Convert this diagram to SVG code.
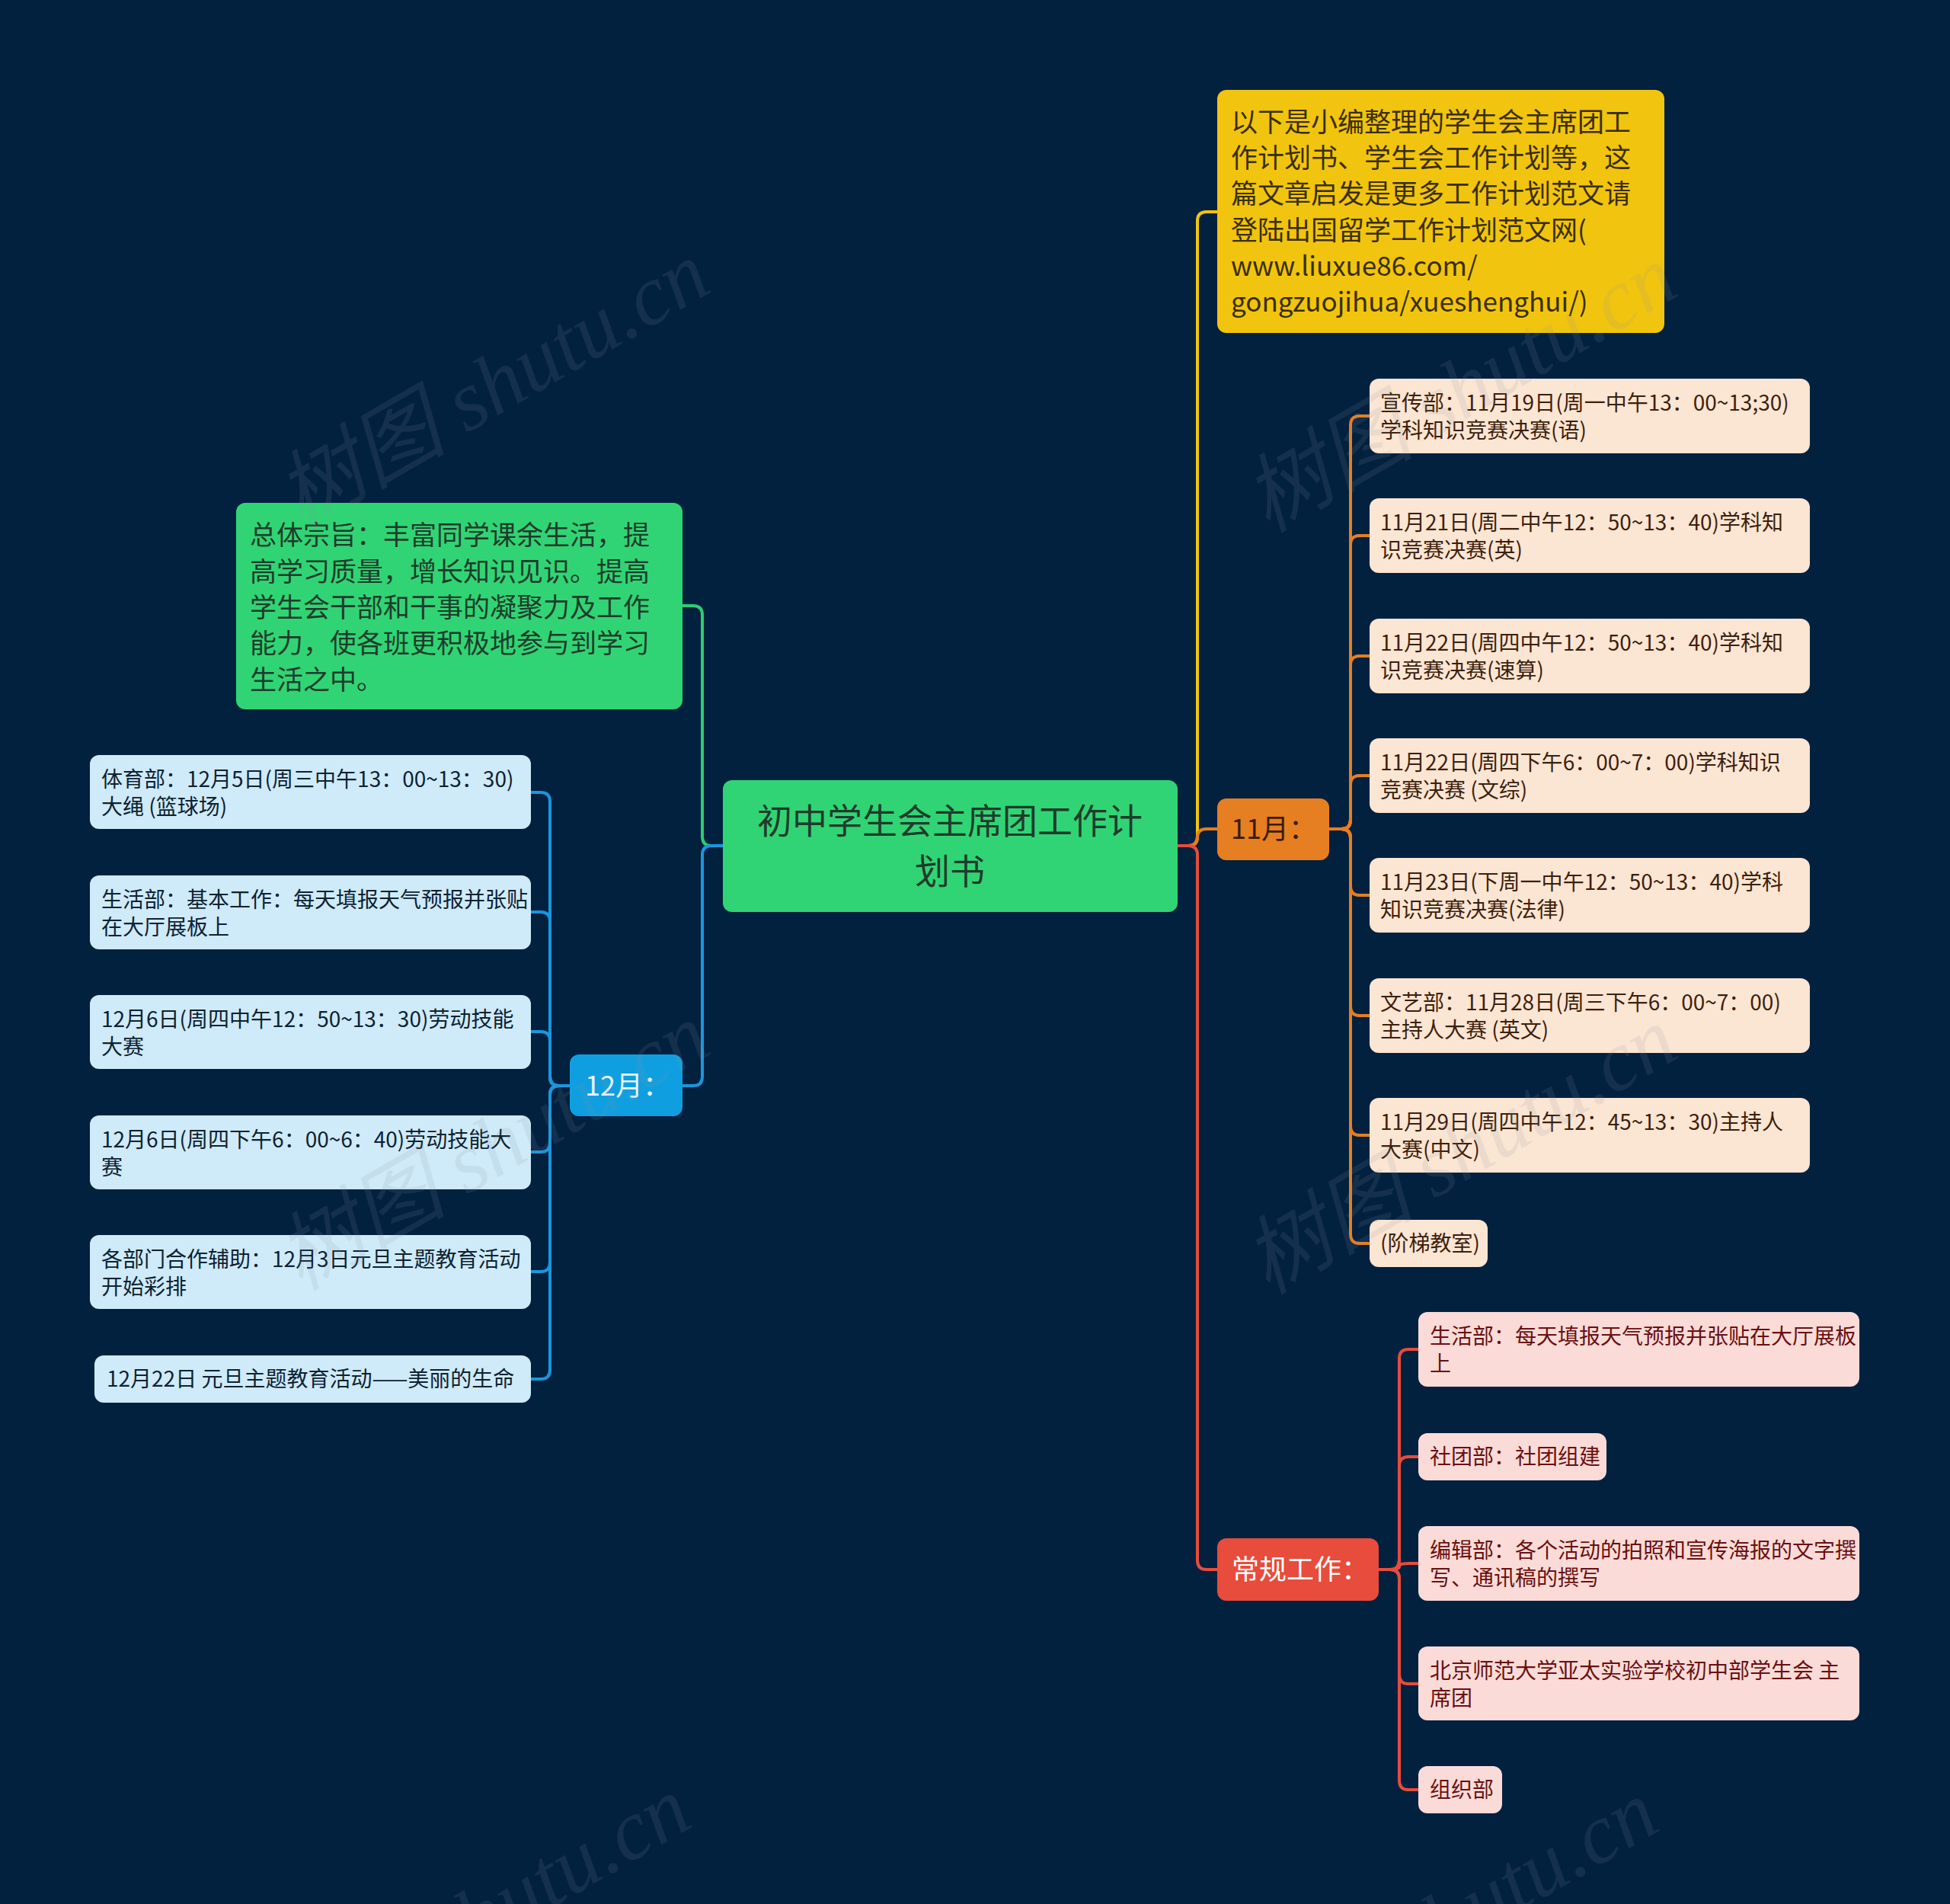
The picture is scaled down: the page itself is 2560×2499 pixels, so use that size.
<svg xmlns="http://www.w3.org/2000/svg" width="2560" height="2499" viewBox="0 0 2560 2499">
<style>
  text { font-family: "Noto Sans CJK SC", "Noto Sans", sans-serif; }
  .wm { font-family: "Liberation Serif", "Noto Sans CJK SC", serif; font-style: italic; font-size: 112px; fill: #8a96a3; opacity: 0.13; }
  .c { fill: none; stroke-width: 4; stroke-linecap: round; stroke-linejoin: round; }
  .cy { stroke: #f1c40f; } .co { stroke: #e67e22; } .cr { stroke: #e74c3c; } .cg { stroke: #2ecc71; } .cb { stroke: #1b96dc; }
  .root { fill: #31d474; }
  .troot { font-size: 46px; fill: #1f3b2b; }
  .tbig { font-size: 35px; }
  .tcat { font-size: 36px; }
  .tleaf { font-size: 28px; }
  .blue { fill: #cfeaf8; } .tblue { fill: #0c2233; }
  .org { fill: #fbe5d3; } .torg { fill: #3d1f0c; }
  .red { fill: #fadbd8; } .tred { fill: #6a1010; }
</style>
<rect width="2560" height="2499" fill="#02213f"/>

<g id="connectors">
  <path class="c cy" d="M1546,1110 H1560 Q1572,1110 1572,1098 V290 Q1572,278 1584,278 H1598"/>
  <path class="c co" d="M1546,1110 H1560 Q1572,1110 1572,1099 Q1572,1088 1584,1088 H1598"/>
  <path class="c cr" d="M1546,1110 H1560 Q1572,1110 1572,1122 V2048 Q1572,2060 1584,2060 H1598"/>
  <path class="c cg" d="M949,1110 H934 Q922,1110 922,1098 V807 Q922,795 910,795 H896"/>
  <path class="c cb" d="M949,1110 H934 Q922,1110 922,1122 V1413 Q922,1425 910,1425 H896"/>

  <path class="c cb" d="M748,1425 H734 Q722,1425 722,1413 V1052 Q722,1040 710,1040 H697"/>
  <path class="c cb" d="M748,1425 H734 Q722,1425 722,1413 V1209 Q722,1197 710,1197 H697"/>
  <path class="c cb" d="M748,1425 H734 Q722,1425 722,1413 V1366 Q722,1354 710,1354 H697"/>
  <path class="c cb" d="M748,1425 H734 Q722,1425 722,1437 V1500 Q722,1512 710,1512 H697"/>
  <path class="c cb" d="M748,1425 H734 Q722,1425 722,1437 V1657 Q722,1669 710,1669 H697"/>
  <path class="c cb" d="M748,1425 H734 Q722,1425 722,1437 V1798 Q722,1810 710,1810 H697"/>

  <path class="c co" d="M1745,1088 H1761 Q1773,1088 1773,1076 V558 Q1773,546 1785,546 H1798"/>
  <path class="c co" d="M1745,1088 H1761 Q1773,1088 1773,1076 V715 Q1773,703 1785,703 H1798"/>
  <path class="c co" d="M1745,1088 H1761 Q1773,1088 1773,1076 V873 Q1773,861 1785,861 H1798"/>
  <path class="c co" d="M1745,1088 H1761 Q1773,1088 1773,1076 V1030 Q1773,1018 1785,1018 H1798"/>
  <path class="c co" d="M1745,1088 H1761 Q1773,1088 1773,1100 V1163 Q1773,1175 1785,1175 H1798"/>
  <path class="c co" d="M1745,1088 H1761 Q1773,1088 1773,1100 V1321 Q1773,1333 1785,1333 H1798"/>
  <path class="c co" d="M1745,1088 H1761 Q1773,1088 1773,1100 V1478 Q1773,1490 1785,1490 H1798"/>
  <path class="c co" d="M1745,1088 H1761 Q1773,1088 1773,1100 V1620 Q1773,1632 1785,1632 H1798"/>

  <path class="c cr" d="M1810,2060 H1825 Q1837,2060 1837,2048 V1783 Q1837,1771 1849,1771 H1862"/>
  <path class="c cr" d="M1810,2060 H1825 Q1837,2060 1837,2048 V1924 Q1837,1912 1849,1912 H1862"/>
  <path class="c cr" d="M1810,2060 H1825 Q1837,2060 1837,2056 Q1837,2052 1849,2052 H1862"/>
  <path class="c cr" d="M1810,2060 H1825 Q1837,2060 1837,2072 V2198 Q1837,2210 1849,2210 H1862"/>
  <path class="c cr" d="M1810,2060 H1825 Q1837,2060 1837,2072 V2337 Q1837,2349 1849,2349 H1862"/>
</g>

<g id="root">
  <rect class="root" x="949" y="1024" width="597" height="173" rx="12"/>
  <text class="troot" x="1247" y="1094" text-anchor="middle">初中学生会主席团工作计</text>
  <text class="troot" x="1247" y="1160" text-anchor="middle">划书</text>
</g>

<g id="intro">
  <rect x="1598" y="118" width="587" height="319" rx="12" fill="#f1c40f"/>
  <g class="tbig" fill="#3a2e02">
    <text x="1616" y="173">以下是小编整理的学生会主席团工</text>
    <text x="1616" y="220">作计划书、学生会工作计划等，这</text>
    <text x="1616" y="267">篇文章启发是更多工作计划范文请</text>
    <text x="1616" y="315">登陆出国留学工作计划范文网(</text>
    <text x="1616" y="362">www.liuxue86.com/</text>
    <text x="1616" y="409">gongzuojihua/xueshenghui/)</text>
  </g>
</g>

<g id="purpose">
  <rect class="root" x="310" y="660" width="586" height="271" rx="12"/>
  <g class="tbig" fill="#1f3b2b">
    <text x="328" y="715">总体宗旨：丰富同学课余生活，提</text>
    <text x="328" y="763">高学习质量，增长知识见识。提高</text>
    <text x="328" y="810">学生会干部和干事的凝聚力及工作</text>
    <text x="328" y="857">能力，使各班更积极地参与到学习</text>
    <text x="328" y="905">生活之中。</text>
  </g>
</g>

<g id="nov">
  <rect x="1598" y="1048" width="147" height="81" rx="12" fill="#e67e22"/>
  <text class="tcat" x="1616" y="1101" fill="#3a1c05">11月：</text>
</g>

<g id="dec">
  <rect x="748" y="1384" width="148" height="81" rx="12" fill="#0f9fe0"/>
  <text class="tcat" x="768" y="1438" fill="#e8f5fd">12月：</text>
</g>

<g id="routine">
  <rect x="1598" y="2019" width="212" height="82" rx="12" fill="#e74c3c"/>
  <text class="tcat" x="1617" y="2073" fill="#ffffff">常规工作：</text>
</g>

<g id="dec-1">
  <rect class="blue" x="118" y="991" width="579" height="97" rx="12"/>
  <text class="tleaf tblue" x="133" y="1033">体育部：12月5日(周三中午13：00~13：30)</text>
  <text class="tleaf tblue" x="133" y="1069">大绳 (篮球场)</text>
</g>
<g id="dec-2">
  <rect class="blue" x="118" y="1149" width="579" height="97" rx="12"/>
  <text class="tleaf tblue" x="133" y="1191">生活部：基本工作：每天填报天气预报并张贴</text>
  <text class="tleaf tblue" x="133" y="1227">在大厅展板上</text>
</g>
<g id="dec-3">
  <rect class="blue" x="118" y="1306" width="579" height="97" rx="12"/>
  <text class="tleaf tblue" x="133" y="1348">12月6日(周四中午12：50~13：30)劳动技能</text>
  <text class="tleaf tblue" x="133" y="1384">大赛</text>
</g>
<g id="dec-4">
  <rect class="blue" x="118" y="1464" width="579" height="97" rx="12"/>
  <text class="tleaf tblue" x="133" y="1506">12月6日(周四下午6：00~6：40)劳动技能大</text>
  <text class="tleaf tblue" x="133" y="1542">赛</text>
</g>
<g id="dec-5">
  <rect class="blue" x="118" y="1621" width="579" height="97" rx="12"/>
  <text class="tleaf tblue" x="133" y="1663">各部门合作辅助：12月3日元旦主题教育活动</text>
  <text class="tleaf tblue" x="133" y="1699">开始彩排</text>
</g>
<g id="dec-6">
  <rect class="blue" x="124" y="1779" width="573" height="62" rx="12"/>
  <text class="tleaf tblue" x="140" y="1820">12月22日 元旦主题教育活动——美丽的生命</text>
</g>

<g id="nov-1">
  <rect class="org" x="1798" y="497" width="578" height="98" rx="12"/>
  <text class="tleaf torg" x="1812" y="539">宣传部：11月19日(周一中午13：00~13;30)</text>
  <text class="tleaf torg" x="1812" y="575">学科知识竞赛决赛(语)</text>
</g>
<g id="nov-2">
  <rect class="org" x="1798" y="654" width="578" height="98" rx="12"/>
  <text class="tleaf torg" x="1812" y="696">11月21日(周二中午12：50~13：40)学科知</text>
  <text class="tleaf torg" x="1812" y="732">识竞赛决赛(英)</text>
</g>
<g id="nov-3">
  <rect class="org" x="1798" y="812" width="578" height="98" rx="12"/>
  <text class="tleaf torg" x="1812" y="854">11月22日(周四中午12：50~13：40)学科知</text>
  <text class="tleaf torg" x="1812" y="890">识竞赛决赛(速算)</text>
</g>
<g id="nov-4">
  <rect class="org" x="1798" y="969" width="578" height="98" rx="12"/>
  <text class="tleaf torg" x="1812" y="1011">11月22日(周四下午6：00~7：00)学科知识</text>
  <text class="tleaf torg" x="1812" y="1047">竞赛决赛 (文综)</text>
</g>
<g id="nov-5">
  <rect class="org" x="1798" y="1126" width="578" height="98" rx="12"/>
  <text class="tleaf torg" x="1812" y="1168">11月23日(下周一中午12：50~13：40)学科</text>
  <text class="tleaf torg" x="1812" y="1204">知识竞赛决赛(法律)</text>
</g>
<g id="nov-6">
  <rect class="org" x="1798" y="1284" width="578" height="98" rx="12"/>
  <text class="tleaf torg" x="1812" y="1326">文艺部：11月28日(周三下午6：00~7：00)</text>
  <text class="tleaf torg" x="1812" y="1362">主持人大赛 (英文)</text>
</g>
<g id="nov-7">
  <rect class="org" x="1798" y="1441" width="578" height="98" rx="12"/>
  <text class="tleaf torg" x="1812" y="1483">11月29日(周四中午12：45~13：30)主持人</text>
  <text class="tleaf torg" x="1812" y="1519">大赛(中文)</text>
</g>
<g id="nov-8">
  <rect class="org" x="1798" y="1601" width="155" height="62" rx="12"/>
  <text class="tleaf torg" x="1812" y="1642">(阶梯教室)</text>
</g>

<g id="routine-1">
  <rect class="red" x="1862" y="1722" width="579" height="98" rx="12"/>
  <text class="tleaf tred" x="1877" y="1764">生活部：每天填报天气预报并张贴在大厅展板</text>
  <text class="tleaf tred" x="1877" y="1800">上</text>
</g>
<g id="routine-2">
  <rect class="red" x="1862" y="1881" width="247" height="62" rx="12"/>
  <text class="tleaf tred" x="1877" y="1922">社团部：社团组建</text>
</g>
<g id="routine-3">
  <rect class="red" x="1862" y="2003" width="579" height="98" rx="12"/>
  <text class="tleaf tred" x="1877" y="2045">编辑部：各个活动的拍照和宣传海报的文字撰</text>
  <text class="tleaf tred" x="1877" y="2081">写、通讯稿的撰写</text>
</g>
<g id="routine-4">
  <rect class="red" x="1862" y="2161" width="579" height="97" rx="12"/>
  <text class="tleaf tred" x="1877" y="2203">北京师范大学亚太实验学校初中部学生会 主</text>
  <text class="tleaf tred" x="1877" y="2239">席团</text>
</g>
<g id="routine-5">
  <rect class="red" x="1862" y="2318" width="110" height="62" rx="12"/>
  <text class="tleaf tred" x="1877" y="2359">组织部</text>
</g>

<g id="watermark">
  <text class="wm" text-anchor="middle" transform="translate(647,505) rotate(-30)" y="38">树图 shutu.cn</text>
  <text class="wm" text-anchor="middle" transform="translate(1917,510) rotate(-30)" y="38">树图 shutu.cn</text>
  <text class="wm" text-anchor="middle" transform="translate(647,1505) rotate(-30)" y="38">树图 shutu.cn</text>
  <text class="wm" text-anchor="middle" transform="translate(1917,1510) rotate(-30)" y="38">树图 shutu.cn</text>
  <text class="wm" transform="translate(647,2505) rotate(-30)" x="-91" y="38">shutu.cn</text>
  <text class="wm" transform="translate(1917,2510) rotate(-30)" x="-91" y="38">shutu.cn</text>
</g>
</svg>
